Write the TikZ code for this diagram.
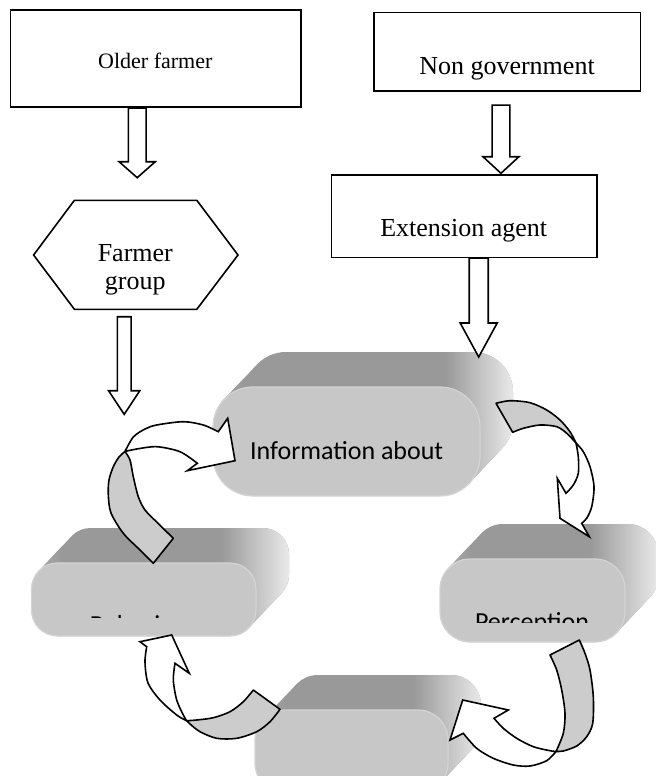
\documentclass[tikz,border=0pt]{standalone}
\usepackage{fontspec}
\setmainfont{Liberation Serif}
\newfontfamily\calfont{Carlito}
\usetikzlibrary{calc}
\definecolor{frontc}{gray}{0.78}
\definecolor{rimc}{gray}{0.83}
\definecolor{lensc}{gray}{0.8}
\definecolor{topc}{gray}{0.6}
\definecolor{leftc}{gray}{0.7}
\definecolor{sidec}{gray}{0.92}
% x y w h radius
\newcommand\mycyl[5]{%
  \begin{scope}
    \clip[rounded corners=#5] \foreach \t in {0,...,24} {({#1+\t*33/24},{#2-\t*35/24}) rectangle ++(#3,#4)};
    \fill[topc] ({#1-2},{#2-40}) rectangle ({#1+#3+40},{#2+#4+2});
    \shade[left color=leftc, right color=topc] ({#1-2},{#2-40}) rectangle ({#1+30},{#2+#4+2});
    \shade[left color=topc, right color=sidec] ({#1+#3-35},{#2-40}) rectangle ({#1+#3+34},{#2+#4+2});
  \end{scope}
  \filldraw[fill=frontc, draw=rimc, line width=0.6pt, rounded corners=#5] (#1,#2) rectangle ++(#3,#4);
}
% top coord, tip coord, shaft half width, head half width, head length
\newcommand\barrow[5]{%
  \draw[arrline] let \p1=(#1), \p2=(#2) in
   (\x1-#3,\y1) -- (\x1-#3,\y2+#5) -- (\x1-#4,\y2+#5) -- (\x1,\y2) -- (\x1+#4,\y2+#5) -- (\x1+#3,\y2+#5) -- (\x1+#3,\y1) -- cycle;
}
\begin{document}
\begin{tikzpicture}[x=0.5pt,y=-0.5pt,
  box/.style={draw, line width=0.8pt, inner sep=0},
  arrline/.style={draw=black, fill=white, line width=0.8pt, line join=miter},
  lens/.style={draw=black, fill=lensc, line width=0.8pt, line join=round},
  band/.style={draw=black, fill=white, line width=0.8pt, line join=miter},
  big/.style={font=\fontsize{13}{14.15}\selectfont, inner sep=0},
  cal/.style={font=\calfont\fontsize{13}{15.6}\selectfont, inner sep=0}]
\useasboundingbox (0,0) rectangle (656,776);
\clip (0,0) rectangle (656,776);

% boxes
\node[box, minimum width=145.1pt, minimum height=48.35pt] (older) at (155.6,58.35) {};
\node[box, minimum width=133.25pt, minimum height=39.35pt] (nongov) at (507.25,51.65) {};
\node[box, minimum width=132.8pt, minimum height=41.3pt] (ext) at (464.2,216) {};
\node[inner sep=0, anchor=base, font=\fontsize{11}{13}\selectfont] (olderT) at (155.3,68) {Older farmer};
\node[big, anchor=base] (nongovT) at (507,74) {Non government};
\node[big, anchor=base] (extT) at (463.7,236.7) {Extension agent};

% hexagon
\draw[line width=0.8pt] (74.4,200.3) -- (196.8,200.3) -- (238,255) -- (196.8,309.3) -- (74.4,309.3) -- (33.6,255) -- cycle;
\node[big, align=center] (group) at (135.3,270.1) {Farmer\\group};

% cylinders
\mycyl{213}{387}{267}{109}{20pt}
\mycyl{31.5}{563}{224.5}{73}{13pt}
\mycyl{440}{559}{185}{83}{15pt}
\mycyl{255}{710}{193}{83}{15pt}

\node[cal, anchor=base] (info) at (346.7,459) {Information about};
\begin{scope}
  \clip (440,559) rectangle (625,622.7);
  \node[cal, anchor=base] (perc) at (532,630) {Perception};
\end{scope}
\begin{scope}
  \clip (31.5,563) rectangle (256,617.7);
  \node[cal, anchor=base] (behav) at (136.4,633) {Behavior};
\end{scope}

% straight block arrows
\coordinate (olderOut) at ($(older.south)+(-18.4,0.6)$);
\coordinate (groupIn) at (137.2,177.7);
\coordinate (ngOut) at ($(nongov.south)+(-6.3,13.3)$);
\coordinate (extIn) at (501,173.3);
\coordinate (extOut) at ($(ext.south)+(14.5,0)$);
\coordinate (infoIn) at (478.7,357);
\coordinate (groupOut) at (124.2,316.7);
\coordinate (loopIn) at (124.2,414.3);
\barrow{olderOut}{groupIn}{4.43pt}{9.05pt}{8pt}
\barrow{ngOut}{extIn}{4.43pt}{9pt}{8.3pt}
\barrow{extOut}{infoIn}{4.75pt}{9.25pt}{17pt}
\barrow{groupOut}{loopIn}{3.43pt}{7.83pt}{11.8pt}

% curved arrow A: Behavior -> Information
\filldraw[band] (125,451.5) -- plot[smooth] coordinates {(125,451.5) (133.3,437) (145,429) (156.7,425) (183.3,421.7) (203.3,425) (218.3,431.7)}
  -- (227.7,418.3) -- (235,460.7) -- (187.3,470.7) -- (197.3,463.3)
  -- plot[smooth] coordinates {(197.3,463.3) (180,451.7) (156.7,446.7) (136.7,449) (125,451.5)} -- cycle;
\filldraw[lens] (153.3,563.3) -- plot[smooth] coordinates {(153.3,563.3) (140,550) (123.3,533.3) (111,513) (108.3,495) (109,480) (113.3,466.7) (119,457) (125,451.5)}
  -- plot[smooth] coordinates {(125,451.5) (130,460) (133.3,476.7) (138.3,496.7) (145,510) (156.7,522) (173.3,538.3)} -- cycle;

% curved arrow B: Information -> Perception
\filldraw[band] (576,443) -- plot[smooth] coordinates {(576,443) (583.3,451.7) (590,466.7) (594,486.7) (591.7,506.7) (586.7,518.3) (581.7,523.3)}
  -- (589.3,536.7) -- (560,518.3) -- (557.3,478.3) -- (566,493.3)
  -- plot[smooth] coordinates {(566,493.3) (573.3,485) (578.3,473.3) (578.3,456.7) (576,443)} -- cycle;
\filldraw[lens] (496,403.3) -- plot[smooth] coordinates {(496,403.3) (510,400.7) (530,402.7) (546.7,410) (560,420) (570,431.7) (576,443)}
  -- plot[smooth] coordinates {(576,443) (566.7,433.3) (556.7,426.7) (540,425) (523.3,428.3) (512.7,432.3)} -- cycle;

% curved arrow C: Perception -> bottom
\filldraw[band] (556,751.5) -- plot[smooth] coordinates {(556,751.5) (546.7,760.7) (530,766) (513.3,765) (493.3,758.3) (476.7,748.3) (463.3,733.3)}
  -- (450,740) -- (462.7,700) -- (508.3,710) -- (494,718.3)
  -- plot[smooth] coordinates {(494,718.3) (503.3,728.3) (516.7,738.3) (533.3,746.7) (550,750.7) (556,751.5)} -- cycle;
\filldraw[lens] (550,655) -- plot[smooth] coordinates {(550,655) (556.7,670) (561.7,690) (565,713.3) (563.3,733.3) (556,751.5)}
  -- plot[smooth] coordinates {(556,751.5) (563.3,751) (576.7,746) (586.7,736.7) (592.7,723.3) (593.3,696.7) (590,670) (585,653.3) (579.3,640)} -- cycle;

% curved arrow D: bottom -> Behavior
\filldraw[band] (186.7,720.7) -- plot[smooth] coordinates {(186.7,720.7) (176.7,715) (160,700) (148,683) (145,662) (146.7,646.7)}
  -- (140,641.7) -- (171.7,635) -- (189.3,673.3) -- (175,663.3)
  -- plot[smooth] coordinates {(175,663.3) (173.3,680) (176.7,700) (183.3,715) (186.7,720.7)} -- cycle;
\filldraw[lens] (253.3,690) -- plot[smooth] coordinates {(253.3,690) (243.3,701.7) (230,711.7) (213.3,717.7) (196.7,720) (186.7,720.7)}
  -- plot[smooth] coordinates {(186.7,720.7) (190,724) (200,731.7) (216.7,738.3) (236.7,738.3) (256.7,731.7) (270,721.7) (280,709.3)} -- cycle;
\end{tikzpicture}
\end{document}
